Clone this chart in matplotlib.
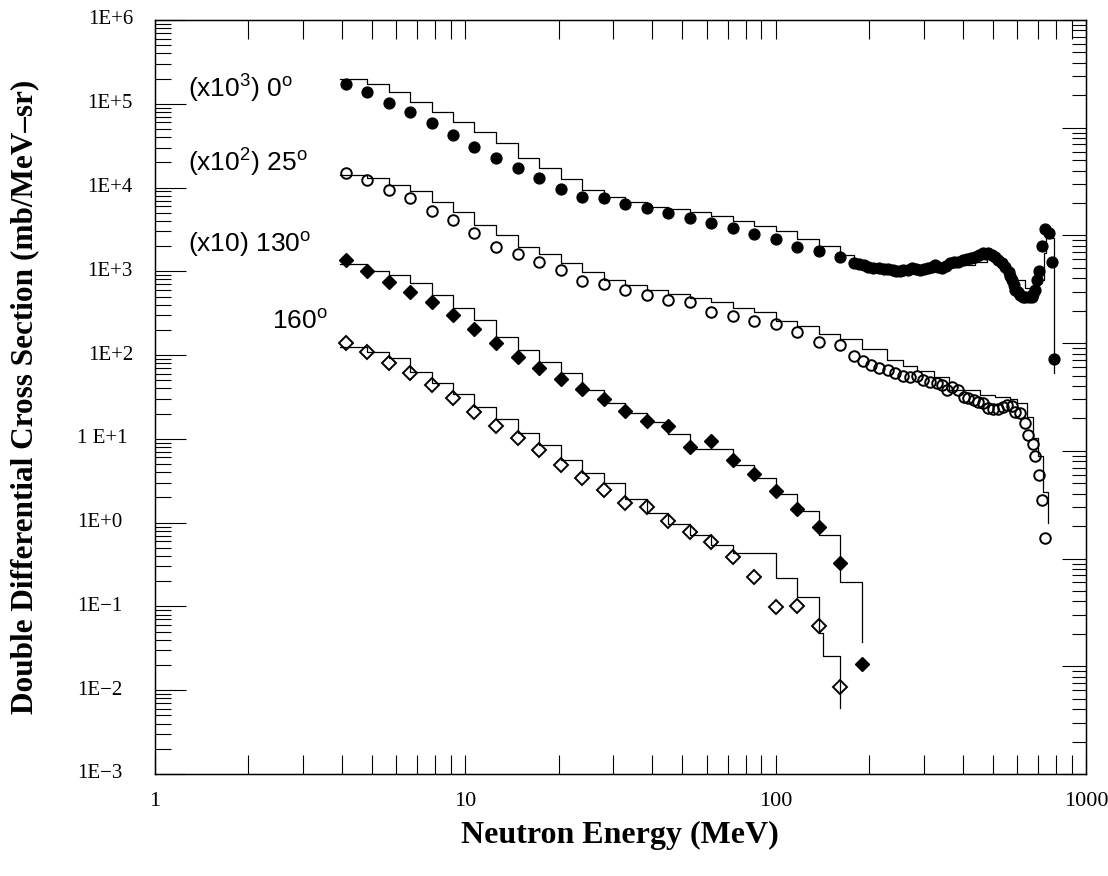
import numpy as np
import matplotlib
matplotlib.use("Agg")
import matplotlib.pyplot as plt
from matplotlib.ticker import LogLocator, NullFormatter
from matplotlib.transforms import blended_transform_factory

# ---------------------------------------------------------------------------
# Measured double differential cross sections (mb/MeV-sr), unscaled
# ---------------------------------------------------------------------------
# Common low-energy bins (MeV); points sit on the lower bin edges
energy = [4.12, 4.83, 5.67, 6.64, 7.80, 9.14, 10.7, 12.6, 14.8, 17.3, 20.3,
          23.8, 27.9, 32.8, 38.4, 45.1, 52.9, 62.0, 72.8, 85.4, 100.1, 117.5,
          137.8, 161.6, 189.6]

# 0 degrees
deg0_lo = [172, 137, 103, 80.5, 58.5, 42.5, 30.3, 22.4, 17.3, 12.9, 9.5, 7.8,
           7.45, 6.3, 5.66, 4.93, 4.37, 3.75, 3.32, 2.77, 2.44, 1.97, 1.75, 1.49]
deg0_hi_e = [179, 186, 193, 199, 206, 216, 223, 230, 238, 245, 251, 258, 266,
             275, 284, 292, 301, 310, 318, 326, 334, 343, 354, 365, 376, 388,
             400, 413, 426, 439, 453, 467, 476, 485, 497, 510, 522, 535, 549,
             563, 570, 577, 584, 591, 602, 614, 625, 637, 653, 669, 677, 685,
             696, 708, 724, 739, 762, 776, 789]
deg0_hi = [1.25, 1.22, 1.19, 1.14, 1.09, 1.11, 1.08, 1.07, 1.04, 1.01, 1.02,
           1.04, 1.05, 1.09, 1.06, 1.04, 1.06, 1.09, 1.12, 1.19, 1.13, 1.10,
           1.17, 1.25, 1.28, 1.31, 1.35, 1.39, 1.43, 1.47, 1.55, 1.64, 1.62,
           1.64, 1.58, 1.50, 1.38, 1.25, 1.12, 0.99, 0.88, 0.79, 0.68, 0.60,
           0.56, 0.523, 0.50, 0.499, 0.49, 0.499, 0.54, 0.60, 0.78, 1.02,
           2.01, 3.18, 2.85, 1.31, 0.089]

# 25 degrees
deg25_lo = [148, 123, 93.6, 74.4, 53.0, 41.0, 28.5, 19.7, 16.0, 12.8, 10.4,
            7.68, 7.08, 6.00, 5.23, 4.56, 4.35, 3.30, 2.96, 2.58, 2.36, 1.91,
            1.43, 1.32]
deg25_hi_e = [179, 191, 203, 216, 230, 242, 258, 271, 285, 299, 315, 330, 343,
              356, 369, 388, 403, 418, 434, 450, 467, 485, 503, 522, 542, 558,
              577, 591, 613, 637, 652, 674, 685, 708, 720, 738]
deg25_hi = [0.97, 0.85, 0.77, 0.70, 0.66, 0.61, 0.57, 0.55, 0.565, 0.506,
            0.483, 0.47, 0.44, 0.384, 0.42, 0.384, 0.32, 0.306, 0.292, 0.279,
            0.267, 0.232, 0.226, 0.226, 0.239, 0.255, 0.248, 0.212, 0.203,
            0.154, 0.112, 0.087, 0.063, 0.037, 0.0184, 0.0065]

# 130 degrees
deg130 = [137, 101, 74.1, 57.3, 42.8, 30.2, 20.4, 13.9, 9.6, 6.98, 5.16, 3.92,
          2.98, 2.18, 1.65, 1.43, 0.81, 0.95, 0.56, 0.382, 0.240, 0.145,
          0.090, 0.0334, 0.00207]

# 160 degrees
deg160 = [141, 110, 80, 61.3, 43.5, 31.1, 21.2, 14.2, 10.3, 7.47, 4.90, 3.40,
          2.46, 1.74, 1.53, 1.06, 0.78, 0.58, 0.394, 0.227, 0.098, 0.102,
          0.0587, 0.0109]

# ---------------------------------------------------------------------------
# Calculated spectra (histograms): bin edges, bin contents, end of last drop
# ---------------------------------------------------------------------------
calc_start = 3.95   # lower edge of the first calculated bin (MeV)

calc0_edges = [calc_start] + energy[1:24] + [179, 210, 260, 320, 380, 440,
                                             480, 530, 569, 637, 685, 733,
                                             745, 789]
calc0 = [198, 172, 137, 106, 80.5, 61, 46.4, 34.4, 22.4, 16.9, 12.8, 9.4,
         7.66, 6.66, 5.79, 5.53, 5.05, 4.6, 3.99, 3.47, 3.03, 2.46, 2.0,
         1.58, 1.2, 1.1, 1.08, 1.12, 1.2, 1.3, 1.5, 1.15, 0.79, 0.631, 0.79,
         1.64, 2.48]
calc0_end = 0.061

calc25_edges = [calc_start] + energy[1:25] + [228, 258, 285, 323, 362, 456,
                                              509, 569, 598, 645, 677, 702,
                                              729, 753]
calc25 = [140, 130, 108, 92, 68, 51.6, 35.8, 27.2, 19.7, 16.0, 12.5, 9.91,
          7.85, 6.84, 5.95, 5.42, 4.86, 4.30, 3.64, 3.25, 2.58, 2.24, 1.78,
          1.55, 1.17, 0.885, 0.735, 0.64, 0.546, 0.38, 0.335, 0.32, 0.30,
          0.267, 0.185, 0.102, 0.062, 0.0235]
calc25_end = 0.010

calc130_edges = [calc_start] + energy[1:25]
calc130 = [122, 100, 90.6, 72.1, 52.3, 36.2, 26.3, 16.6, 11.5, 8.36, 6.18,
           3.8, 2.67, 2.03, 1.57, 1.15, 0.75, 0.75, 0.49, 0.34, 0.221, 0.139,
           0.0715, 0.0198]
calc130_end = 0.0038

calc160_edges = [calc_start] + energy[1:23] + [142.5, 161.6]
calc160 = [126, 110, 92, 63.5, 47, 34.1, 23.9, 17.2, 11.7, 8.5, 5.6, 3.9,
           3.0, 1.9, 1.32, 0.97, 0.71, 0.54, 0.43, 0.43, 0.217, 0.129,
           0.048, 0.0257]
calc160_end = 0.0061

# Display scale factors
scale0, scale25, scale130, scale160 = 1e3, 1e2, 1e1, 1.0

SERIF = "Liberation Serif"
SANS = "Liberation Sans"
plt.rcParams["mathtext.fontset"] = "custom"
plt.rcParams["mathtext.rm"] = SANS
plt.rcParams["mathtext.it"] = SANS + ":italic"
plt.rcParams["mathtext.bf"] = SANS + ":bold"

fig = plt.figure(figsize=(11.08, 8.76), dpi=100)
ax = fig.add_axes([155 / 1108, 1 - 774 / 876, 931 / 1108, 754 / 876])
ax.set_xscale("log")
ax.set_yscale("log")
ax.set_xlim(1, 1000)
ax.set_ylim(1e-3, 1e6)


def calc_line(edges, vals, end, scale):
    x = np.asarray(edges, dtype=float)
    y = np.append(np.asarray(vals, dtype=float), end) * scale
    ax.step(x, y, where="post", color="black", lw=0.9, zorder=2)


calc_line(calc0_edges, calc0, calc0_end, scale0)
calc_line(calc25_edges, calc25, calc25_end, scale25)
calc_line(calc130_edges, calc130, calc130_end, scale130)
calc_line(calc160_edges, calc160, calc160_end, scale160)

e0 = energy[:24] + deg0_hi_e
v0 = np.array(deg0_lo + deg0_hi) * scale0
ax.plot(e0, v0, "o", ms=7.8, mfc="black", mec="black", zorder=3)

e25 = energy[:24] + deg25_hi_e
v25 = np.array(deg25_lo + deg25_hi) * scale25
ax.plot(e25, v25, "o", ms=7.6, mfc="none", mec="black", mew=1.4, zorder=3)

ax.plot(energy[:25], np.array(deg130) * scale130, "D", ms=7.6, mfc="black",
        mec="black", zorder=3)
ax.plot(energy[:24], np.array(deg160) * scale160, "D", ms=7.6, mfc="none",
        mec="black", mew=1.4, zorder=3)

# Axes frame and ticks
for sp in ax.spines.values():
    sp.set_linewidth(1.0)
ax.xaxis.set_major_locator(LogLocator(base=10, numticks=10))
ax.xaxis.set_minor_locator(LogLocator(base=10, subs=np.arange(2, 10),
                                      numticks=100))
ax.yaxis.set_major_locator(LogLocator(base=10, numticks=20))
ax.yaxis.set_minor_locator(LogLocator(base=10, subs=np.arange(2, 10),
                                      numticks=100))
ax.xaxis.set_minor_formatter(NullFormatter())
ax.yaxis.set_major_formatter(NullFormatter())
ax.yaxis.set_minor_formatter(NullFormatter())
ax.set_xticks([1, 10, 100, 1000], labels=["1", "10", "100", "1000"])
ax.tick_params(axis="x", which="both", direction="in", top=True, bottom=True,
               length=13.5, width=0.8, pad=13, labelsize=16)
ax.tick_params(axis="y", which="major", direction="in", left=True,
               right=False, length=22, width=0.8)
ax.tick_params(axis="y", which="minor", direction="in", left=True,
               right=False, length=11.5, width=0.8)
for lab in ax.get_xticklabels():
    lab.set_fontfamily(SERIF)

# Right-hand axis
ax2 = ax.twinx()
ax2.set_yscale("log")
ax2.set_ylim(1e-2, 1e5)
ax2.yaxis.set_major_locator(LogLocator(base=10, numticks=20))
ax2.yaxis.set_minor_locator(LogLocator(base=10, subs=np.arange(2, 10),
                                       numticks=100))
ax2.yaxis.set_major_formatter(NullFormatter())
ax2.yaxis.set_minor_formatter(NullFormatter())
ax2.tick_params(axis="y", which="major", direction="in", length=17, width=0.8)
ax2.tick_params(axis="y", which="minor", direction="in", length=10, width=0.8)

# Y tick labels
ytick_vals = [1e-3, 1e-2, 1e-1, 1e0, 1e1, 1e2, 1e3, 1e4, 1e5, 1e6]
ytick_text = ["1E\u22123", "1E\u22122", "1E\u22121", "1E+0", "1 E+1", "1E+2",
              "1E+3", "1E+4", "1E+5", "1E+6"]
trans = blended_transform_factory(ax.transAxes, ax.transData)
for val, txt in zip(ytick_vals, ytick_text):
    if val >= 1e2:
        ax.text(-22 / 931, val, txt, transform=trans, ha="right", va="center",
                fontsize=15, fontfamily=SERIF)
    else:
        ax.text(-78 / 931, val, txt, transform=trans, ha="left", va="center",
                fontsize=15, fontfamily=SERIF)

# Series annotations
ann = dict(fontsize=19, fontfamily=SANS, ha="left", va="center",
           transform=ax.transAxes)
ax.text(33 / 931, 685 / 754, r"(x10$^{3}$) 0$^{\rm o}$", **ann)
ax.text(33 / 931, 611 / 754, r"(x10$^{2}$) 25$^{\rm o}$", **ann)
ax.text(33 / 931, 529 / 754, r"(x10) 130$^{\rm o}$", **ann)
ax.text(117 / 931, 452 / 754, r"160$^{\rm o}$", **ann)

# Axis titles
fig.text(620 / 1108, 1 - 835 / 876, "Neutron Energy (MeV)", ha="center",
         va="center", fontsize=23, fontweight="bold", fontfamily=SERIF)
fig.text(25 / 1108, 1 - 397 / 876,
         "Double Differential Cross Section (mb/MeV\u2013sr)", ha="center",
         va="center", rotation=90, fontsize=22.5, fontweight="bold",
         fontfamily=SERIF)

fig.savefig("out.png", dpi=100)
